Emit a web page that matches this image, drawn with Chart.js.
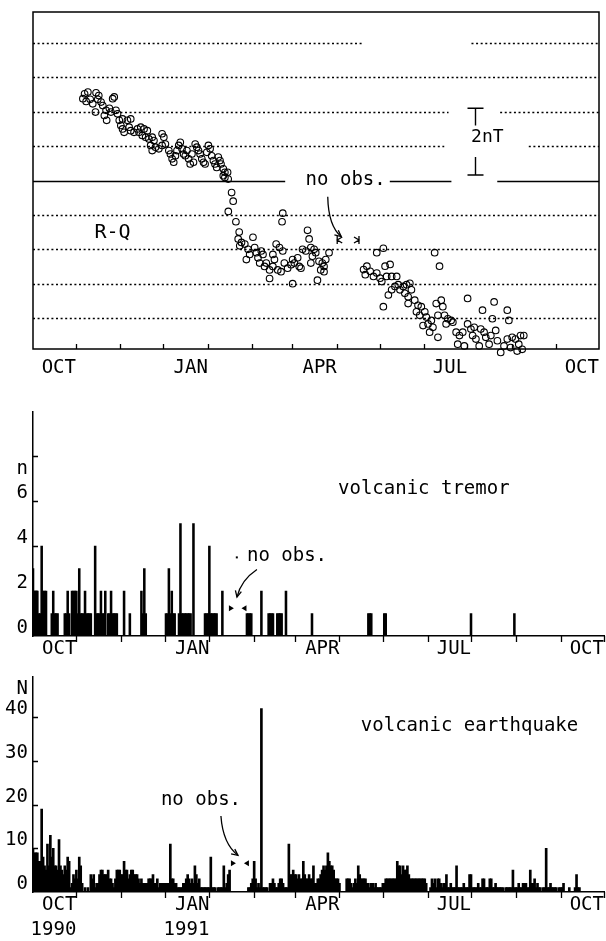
<!DOCTYPE html>
<html>
<head>
<meta charset="utf-8">
<script src="https://cdn.jsdelivr.net/npm/chart.js@4.4.1/dist/chart.umd.min.js"></script>
<style>
  html, body { margin: 0; padding: 0; background: #fff; }
  #wrap { position: relative; width: 606px; height: 941px; }
  canvas { position: absolute; left: 0; }
</style>
</head>
<body>
<div id="wrap">
  <canvas id="rq" width="606" height="395" style="top:0"></canvas>
  <canvas id="tremor" width="606" height="265" style="top:395px"></canvas>
  <canvas id="quake" width="606" height="281" style="top:660px"></canvas>
</div>
<script>
// day 0 = 1 Sep 1990
const monthStarts = [0, 30, 61, 91, 122, 153, 181, 212, 242, 273, 303, 334, 365, 395];
const monthNames = ['', 'OCT', '', '', 'JAN', '', '', 'APR', '', '', 'JUL', '', '', 'OCT'];
const yearNames  = ['', '1990', '', '', '1991', '', '', '', '', '', '', '', '', ''];

// R-Q total force difference (nT)
const rqDays = [
  36.0, 38.3, 34.8, 37.1, 39.9, 41.7, 44.0, 45.9, 45.2, 47.5, 48.7, 43.6, 51.0, 49.8, 51.4, 53.3,
  55.6, 56.7, 54.4, 57.9, 59.0, 60.2, 62.5, 65.9, 68.2, 61.3, 62.5, 63.6, 67.1, 68.2, 70.5, 72.9,
  74.0, 75.2, 77.5, 79.8, 76.3, 78.6, 80.9, 83.2, 84.4, 82.1, 83.2, 85.5, 87.8, 90.1, 91.3, 90.1,
  92.4, 94.8, 95.9, 97.1, 98.2, 99.4, 101.7, 102.8, 104.0, 100.5, 105.1, 106.3, 107.4, 108.6, 109.7,
  110.9, 112.0, 113.2, 114.3, 115.5, 116.6, 117.8, 119.0, 120.1, 122.4, 123.6, 121.3, 124.7, 125.9,
  127.0, 128.2, 129.3, 130.5, 131.2, 132.8, 133.9, 135.8, 132.8, 133.9, 136.2,
  138.6, 139.7, 136.3, 141.6, 143.9, 143.2, 145.5, 147.8, 144.3, 150.1, 151.2, 148.9, 153.5, 154.7,
  155.9, 157.0, 158.2, 159.3, 160.5, 161.6, 162.8, 165.1, 167.4, 168.5, 167.4, 169.7, 172.0, 174.3,
  170.8, 173.1, 165.1, 175.4, 177.7, 180.1, 181.2, 182.4, 184.7, 185.8, 187.0, 181.2, 188.1, 190.4,
  191.6, 192.7, 193.9, 196.2, 195.0, 193.9, 197.3, 174.3, 173.8, 199.6, 201.9, 200.8, 203.1, 204.3,
  206.6, 198.5, 203.1,
  239.9, 244.5, 230.7, 233.0, 235.3, 231.9, 237.6, 239.9, 242.2, 243.4, 245.7, 249.2, 246.8, 250.3,
  253.8, 244.5, 248.0, 250.3, 252.6, 254.9, 256.1, 258.4, 260.7, 263.0, 259.5, 261.8, 264.1, 261.8,
  266.4, 268.7, 271.0, 267.6, 269.9, 273.4, 274.5, 272.2, 275.7, 276.8, 279.1, 278.0, 282.6, 280.3,
  283.7, 281.4, 284.9, 286.0, 282.6, 287.2, 289.5, 288.3, 291.8, 293.0, 295.3, 297.6, 299.9, 296.4,
  301.0, 303.3, 303.3, 305.6, 307.9, 306.8, 309.1, 311.4, 313.7, 312.5, 314.8, 316.0, 318.3, 320.6,
  321.8, 322.9, 319.5, 324.1, 326.4, 327.5, 325.2, 328.7, 331.0, 332.1, 331.0, 334.4, 336.7, 339.0,
  340.2, 342.5, 341.4, 337.9, 328.7, 333.3
];
const rqValues = [
  2.52, 2.57, 2.38, 2.30, 2.36, 2.23, 2.55, 2.47, 2.36, 2.28, 2.18, 1.99, 2.04, 1.89, 1.75, 2.10,
  2.38, 2.43, 1.99, 2.04, 1.94, 1.75, 1.79, 1.75, 1.79, 1.60, 1.50, 1.40, 1.55, 1.45, 1.40, 1.50,
  1.40, 1.55, 1.50, 1.45, 1.31, 1.26, 1.21, 1.26, 1.16, 1.02, 0.87, 0.97, 0.92, 1.36, 1.26, 1.02,
  1.06, 0.87, 0.77, 0.63, 0.53, 0.72, 1.02, 1.11, 0.92, 0.87, 0.77, 0.72, 0.87, 0.63, 0.48,
  0.77, 0.53, 1.06, 0.97, 0.87, 0.77, 0.63, 0.53, 0.48, 1.02, 0.92, 0.82, 0.72, 0.58,
  0.48, 0.38, 0.68, 0.58, 0.48, 0.34, 0.24, 0.24, 0.14, 0.09, 0.04,
  -0.35, -0.60, -0.90, -1.20, -1.50, -1.70, -1.80, -1.85, -1.90, -2.00, -2.15, -2.30, -1.65, -1.95,
  -2.10, -2.25, -2.40, -2.05, -2.15, -2.50, -2.40, -2.60, -2.15, -2.30, -2.50, -1.85, -1.95, -2.05,
  -2.60, -2.65, -2.85, -2.40, -2.55, -2.45, -2.30, -2.40, -2.25, -2.50, -2.55, -3.00, -2.00, -2.05,
  -1.45, -1.70, -1.95, -2.00, -2.20, -2.40, -2.10, -0.95, -1.20, -2.35, -2.40, -2.60, -2.50, -2.30,
  -2.10, -2.90, -2.65,
  -2.10, -1.97, -2.59, -2.49, -2.64, -2.74, -2.79, -2.69, -2.84, -2.94, -2.49, -2.44, -2.79, -2.79,
  -2.79, -3.67, -3.33, -3.18, -3.08, -3.03, -3.18, -3.08, -3.03, -2.99, -3.28, -3.38, -3.18, -3.58,
  -3.48, -3.63, -3.67, -3.82, -3.92, -3.82, -3.97, -4.22, -4.17, -4.41, -4.27, -4.07, -4.56, -2.10,
  -2.49, -3.58, -3.48, -3.67, -3.92, -3.92, -4.02, -4.17, -4.07, -4.12, -4.41, -4.51, -4.41, -4.76,
  -4.81, -3.43, -4.17, -4.32, -4.27, -4.51, -4.61, -4.81, -3.77, -4.32, -4.41, -4.56, -4.76, -4.02,
  -3.53, -4.36, -4.51, -4.66, -5.00, -5.15, -5.30, -5.45, -3.77, -4.07, -4.61, -4.56, -4.61, -4.76,
  -4.51, -4.51, -4.91, -4.96, -4.81, -4.86
];

// volcanic tremor, events per day
const tremorDays = [
  0, 1, 2, 3, 4, 5, 6, 7, 8, 9, 13, 14, 15, 16, 17, 22, 23, 24, 25, 27, 28, 29, 30, 31,
  32, 33, 34, 35, 36, 37, 38, 39, 40, 43, 44, 45, 46, 47, 48, 49, 50, 52, 53, 54, 55, 56, 57, 58,
  63, 67, 75, 76, 77, 78, 92, 93, 94, 95, 96, 97, 98, 101, 102, 103, 104, 105, 106, 107, 108, 109,
  111, 119, 120, 121, 122, 123, 124, 125, 126, 127, 131, 148, 149, 150, 151, 158, 163, 164, 165, 166,
  169, 170, 171, 172, 175, 193, 232, 233, 234, 243, 244, 303, 333
];
const tremorCounts = [
  3, 2, 2, 2, 1, 1, 4, 2, 2, 2, 1, 2, 1, 1, 1, 1, 1, 2, 1, 2, 2, 2, 2, 1,
  3, 1, 1, 1, 2, 1, 1, 1, 1, 4, 1, 1, 1, 2, 1, 1, 2, 1, 1, 2, 1, 1, 1, 1,
  2, 1, 2, 1, 3, 1, 1, 1, 3, 1, 2, 1, 1, 1, 5, 1, 1, 1, 1, 1, 1, 1,
  5, 1, 1, 1, 4, 1, 1, 1, 1, 1, 2, 1, 1, 1, 1, 2, 1, 1, 1, 1,
  1, 1, 1, 1, 2, 1, 1, 1, 1, 1, 1, 1, 1
];

// volcanic earthquakes per day from day 0, null = no observation
const quakeCounts = [
  10, 9, 9, 9, 7, 7, 19, 8, 6, 5, 11, 6, 13, 8, 10, 6, 6, 5, 12, 6,
  5, 4, 6, 5, 8, 7, 1, 2, 4, 3, 5, 3, 8, 6, 2, 0, 1, 0, 1, 0,
  4, 3, 4, 1, 2, 2, 4, 5, 5, 4, 4, 4, 5, 3, 3, 2, 1, 3, 5, 5,
  5, 4, 4, 7, 5, 5, 3, 4, 5, 5, 4, 4, 4, 3, 2, 3, 2, 2, 2, 2,
  3, 3, 3, 4, 2, 2, 3, 1, 2, 2, 2, 2, 2, 2, 2, 11, 3, 3, 2, 2,
  1, 1, 1, 1, 2, 2, 3, 4, 3, 2, 3, 2, 6, 4, 2, 3, 1, 1, 1, 1,
  1, 1, 1, 8, 1, 1, 1, 0, 1, 1, 1, 1, 6, 1, 2, 4, 5, null, null, null,
  null, null, null, null, null, null, null, null, null, 1, 1, 2, 3, 7, 3, 1, 2, 1, 42, 1,
  1, 1, 1, 0, 2, 2, 3, 2, 1, 1, 2, 3, 3, 2, 1, 1, 1, 11, 4, 4,
  5, 4, 4, 3, 4, 3, 3, 7, 4, 3, 3, 4, 3, 3, 6, 2, 2, 3, 3, 4,
  5, 6, 5, 6, 9, 7, 6, 6, 5, 3, 3, 3, 2, 0, 0, 0, 0, 3, 3, 3,
  2, 1, 2, 3, 2, 6, 4, 3, 3, 3, 3, 2, 2, 1, 2, 2, 1, 2, 1, 1,
  1, 1, 2, 2, 3, 3, 3, 3, 3, 3, 3, 3, 7, 6, 6, 4, 6, 5, 5, 6,
  4, 3, 3, 3, 3, 3, 3, 3, 3, 3, 3, 3, 2, 0, 0, 1, 3, 2, 3, 1,
  3, 3, 2, 1, 2, 2, 4, 1, 1, 2, 1, 1, 1, 6, 1, 1, 1, 1, 2, 1,
  1, 1, 4, 4, 1, 1, 1, 1, 2, 1, 1, 3, 3, 1, 1, 1, 3, 3, 1, 1,
  2, 1, 1, 1, 1, 1, 0, 1, 1, 1, 1, 1, 5, 1, 1, 1, 2, 1, 1, 2,
  2, 2, 1, 1, 5, 2, 2, 3, 1, 2, 1, 1, 0, 1, 1, 10, 1, 1, 2, 1,
  1, 1, 1, 0, 1, 1, 1, 2, 0, 0, 0, 1, 0, 0, 0, 1, 4, 1, 1, 0,
  0, 0, 0, 0, 0, 0, 0, 0, 0, 0, 0, 0, 0, 0, 0
];

// gaps in the R-Q reference lines, in days, keyed by nT level
const rqGridGaps = { 4: [[231, 306]], 2: [[290, 326]], 1: [[287, 346]], 0: [[176, 249], [292, 324]] };

const FONT = '"DejaVu Sans Mono", monospace';
Chart.defaults.font.family = FONT;
Chart.defaults.color = '#000';

function monthAxis(pad, height, withYears) {
  return {
    type: 'linear', min: 0, max: 395, offset: false,
    afterBuildTicks: s => { s.ticks = monthStarts.map(v => ({ value: v })); },
    afterFit: s => { s.height = height; },
    grid: { display: false, drawTicks: false, offset: false },
    border: { display: true, color: '#000', width: 1.5 },
    ticks: {
      autoSkip: false, maxRotation: 0, minRotation: 0, align: 'end', padding: pad,
      font: { size: 19, lineHeight: 1.29 },
      callback: (v, i) => (withYears && yearNames[i]) ? [monthNames[i], yearNames[i]] : monthNames[i]
    }
  };
}

function countAxis(max, step, labelTest) {
  return {
    type: 'linear', min: 0, max: max,
    afterFit: s => { s.width = 33; },
    grid: { display: false, drawTicks: false },
    border: { display: true, color: '#000', width: 1.5 },
    ticks: { stepSize: step, padding: 5, labelOffset: -8, font: { size: 19 },
      callback: v => labelTest(v) ? String(v) : '' }
  };
}

function text(ctx, str, x, y, size, align) {
  ctx.font = size + 'px ' + FONT;
  ctx.textAlign = align || 'left';
  ctx.textBaseline = 'middle';
  ctx.fillStyle = '#000';
  ctx.fillText(str, x, y);
}

function curvedArrow(ctx, p0, c, p1) {
  ctx.beginPath();
  ctx.moveTo(p0[0], p0[1]);
  ctx.quadraticCurveTo(c[0], c[1], p1[0], p1[1]);
  ctx.stroke();
  const a = Math.atan2(p1[1] - c[1], p1[0] - c[0]);
  ctx.beginPath();
  ctx.moveTo(p1[0] - 7 * Math.cos(a - 0.45), p1[1] - 7 * Math.sin(a - 0.45));
  ctx.lineTo(p1[0], p1[1]);
  ctx.lineTo(p1[0] - 7 * Math.cos(a + 0.45), p1[1] - 7 * Math.sin(a + 0.45));
  ctx.stroke();
}

// small inward pointing triangles marking the edges of the no obs. interval
function gapTriangles(ctx, xa, xb, y) {
  ctx.beginPath();
  ctx.moveTo(xa - 3, y - 3); ctx.lineTo(xa + 2, y); ctx.lineTo(xa - 3, y + 3); ctx.closePath();
  ctx.moveTo(xb + 3, y - 3); ctx.lineTo(xb - 2, y); ctx.lineTo(xb + 3, y + 3); ctx.closePath();
  ctx.fill();
}

function monthTicks(len, from, to) {
  return {
    id: 'monthTicks',
    afterDraw(chart) {
      const { ctx, chartArea: a, scales: { x, y } } = chart;
      ctx.save();
      ctx.strokeStyle = '#000';
      ctx.lineWidth = 1.3;
      ctx.beginPath();
      x.ticks.forEach((t, i) => {
        if (i < from || i > to) return;
        const px = Math.round(x.getPixelForValue(t.value)) + 0.5;
        ctx.moveTo(px, a.bottom);
        ctx.lineTo(px, a.bottom + len);
      });
      if (chart.config.options.innerYTicks) {
        y.ticks.forEach(t => {
          if (t.value <= y.min || t.value >= y.max || t.value % y.options.ticks.stepSize) return;
          const py = Math.round(y.getPixelForValue(t.value)) + 0.5;
          ctx.moveTo(a.left, py);
          ctx.lineTo(a.left + 5, py);
        });
      }
      ctx.stroke();
      ctx.restore();
    }
  };
}

// ---------- R-Q panel ----------
const rqDecor = {
  id: 'rqDecor',
  beforeDatasetsDraw(chart) {
    const { ctx, scales: { x, y } } = chart;
    ctx.save();
    ctx.strokeStyle = '#000';
    y.ticks.forEach(t => {
      const v = t.value;
      if (!Number.isInteger(v) || v <= y.min || v >= y.max) return;
      const py = Math.round(y.getPixelForValue(v)) + 0.5;
      const segs = [];
      let start = x.min;
      (rqGridGaps[v] || []).forEach(g => { segs.push([start, g[0]]); start = g[1]; });
      segs.push([start, x.max]);
      ctx.setLineDash(v === 0 ? [] : [2, 2.6]);
      ctx.lineWidth = 1.5;
      ctx.beginPath();
      segs.forEach(s => { ctx.moveTo(x.getPixelForValue(s[0]), py); ctx.lineTo(x.getPixelForValue(s[1]), py); });
      ctx.stroke();
    });
    ctx.restore();
  },
  afterDraw(chart) {
    const { ctx, chartArea: a, scales: { x, y } } = chart;
    const P = (d, v) => [x.getPixelForValue(d), y.getPixelForValue(v)];
    ctx.save();
    ctx.strokeStyle = '#000';
    ctx.fillStyle = '#000';
    ctx.lineWidth = 1.5;
    ctx.strokeRect(a.left, a.top, a.right - a.left, a.bottom - a.top);

    text(ctx, 'R-Q', ...P(42.9, -1.53), 20);
    text(ctx, 'no obs.', ...P(218.2, 0), 19, 'center');
    text(ctx, '2nT', ...P(305.7, 1.26), 18);

    // 2nT scale bracket
    const bx = Math.round(x.getPixelForValue(308.4)) + 0.5;
    const [, t1] = P(0, 2.1), [, t2] = P(0, 1.6), [, b1] = P(0, 0.68), [, b2] = P(0, 0.16);
    ctx.lineWidth = 1.4;
    ctx.beginPath();
    ctx.moveTo(bx - 8, t1); ctx.lineTo(bx + 8, t1);
    ctx.moveTo(bx, t1); ctx.lineTo(bx, t2);
    ctx.moveTo(bx, b1); ctx.lineTo(bx, b2);
    ctx.moveTo(bx - 8, b2); ctx.lineTo(bx + 8, b2);
    ctx.stroke();

    ctx.lineWidth = 1.3;
    curvedArrow(ctx, P(205.7, -0.47), P(206.1, -1.32), P(215.1, -1.63));

    // edges of the missing interval
    const [ga, gy] = P(212.3, -1.73), [gb] = P(227.5, -1.73);
    ctx.beginPath();
    ctx.moveTo(ga, gy - 4); ctx.lineTo(ga, gy + 4);
    ctx.moveTo(ga + 5, gy - 3); ctx.lineTo(ga, gy); ctx.lineTo(ga + 5, gy + 3);
    ctx.moveTo(gb, gy - 4); ctx.lineTo(gb, gy + 4);
    ctx.moveTo(gb - 5, gy - 3); ctx.lineTo(gb, gy); ctx.lineTo(gb - 5, gy + 3);
    ctx.stroke();
    ctx.restore();
  }
};

new Chart(document.getElementById('rq'), {
  type: 'scatter',
  data: {
    datasets: [{
      data: rqDays.map((d, i) => ({ x: d, y: rqValues[i] })),
      pointStyle: 'circle',
      pointRadius: 3.3,
      pointHoverRadius: 3.3,
      pointBorderWidth: 1.1,
      borderColor: '#000',
      backgroundColor: 'rgba(0,0,0,0)',
      clip: false
    }]
  },
  options: {
    responsive: false, animation: false, events: [],
    layout: { padding: { left: 0, right: 2, top: 12, bottom: 0 } },
    plugins: { legend: { display: false }, tooltip: { enabled: false } },
    scales: {
      x: Object.assign(monthAxis(7, 46, false), { border: { display: false } }),
      y: {
        type: 'linear', min: -4.9, max: 4.9,
        afterFit: s => { s.width = 33; },
        grid: { display: false, drawTicks: false },
        border: { display: false },
        ticks: { stepSize: 1, display: false }
      }
    }
  },
  plugins: [rqDecor, monthTicks(-5, 1, 12)]
});

// ---------- volcanic tremor ----------
const tremorDecor = {
  id: 'tremorDecor',
  afterDraw(chart) {
    const { ctx, scales: { x, y } } = chart;
    const P = (d, v) => [x.getPixelForValue(d), y.getPixelForValue(v)];
    ctx.save();
    ctx.strokeStyle = '#000';
    ctx.fillStyle = '#000';
    text(ctx, 'n', ...P(-3.5, 7.43), 19, 'right');
    text(ctx, 'volcanic tremor', ...P(211, 6.55), 19);
    text(ctx, 'no obs.', ...P(148, 3.58), 19);
    const [dx, dy] = P(141, 3.5);
    ctx.fillRect(dx - 1, dy - 1, 2, 2);
    ctx.lineWidth = 1.3;
    curvedArrow(ctx, P(154.9, 2.96), P(143.8, 2.48), P(141.1, 1.73));
    const [ga, gy] = P(137.6, 1.24), [gb] = P(145.6, 1.24);
    gapTriangles(ctx, ga, gb, gy);
    ctx.restore();
  }
};

new Chart(document.getElementById('tremor'), {
  type: 'bar',
  data: {
    datasets: [{
      data: tremorDays.map((d, i) => ({ x: d, y: tremorCounts[i] })),
      backgroundColor: '#000',
      borderWidth: 0,
      barThickness: 1.9,
      grouped: false
    }]
  },
  options: {
    responsive: false, animation: false, events: [],
    innerYTicks: true,
    layout: { padding: { left: 0, right: 2, top: 15, bottom: 0 } },
    plugins: { legend: { display: false }, tooltip: { enabled: false } },
    scales: {
      x: monthAxis(1, 24, false),
      y: countAxis(10, 2, v => v <= 6)
    }
  },
  plugins: [tremorDecor, monthTicks(6, 1, 13)]
});

// ---------- volcanic earthquake ----------
const quakeDecor = {
  id: 'quakeDecor',
  afterDraw(chart) {
    const { ctx, scales: { x, y } } = chart;
    const P = (d, v) => [x.getPixelForValue(d), y.getPixelForValue(v)];
    ctx.save();
    ctx.strokeStyle = '#000';
    ctx.fillStyle = '#000';
    text(ctx, 'N', ...P(-3.5, 46.4), 19, 'right');
    text(ctx, 'volcanic earthquake', ...P(226.8, 38), 19);
    text(ctx, 'no obs.', ...P(88.5, 21), 19);
    ctx.lineWidth = 1.3;
    curvedArrow(ctx, P(130.0, 17.4), P(131.4, 11.0), P(141.8, 8.4));
    const [ga, gy] = P(139, 6.6), [gb] = P(147.3, 6.6);
    gapTriangles(ctx, ga, gb, gy);
    ctx.restore();
  }
};

new Chart(document.getElementById('quake'), {
  type: 'bar',
  data: {
    datasets: [{
      data: quakeCounts.map((v, i) => ({ x: i, y: v })),
      backgroundColor: '#000',
      borderWidth: 0,
      barThickness: 2,
      grouped: false
    }]
  },
  options: {
    responsive: false, animation: false, events: [],
    innerYTicks: true,
    layout: { padding: { left: 0, right: 2, top: 8, bottom: 0 } },
    plugins: { legend: { display: false }, tooltip: { enabled: false } },
    scales: {
      x: monthAxis(1, 49, true),
      y: countAxis(49.4, 10, v => v % 10 === 0)
    }
  },
  plugins: [quakeDecor, monthTicks(6, 1, 13)]
});
</script>
</body>
</html>
